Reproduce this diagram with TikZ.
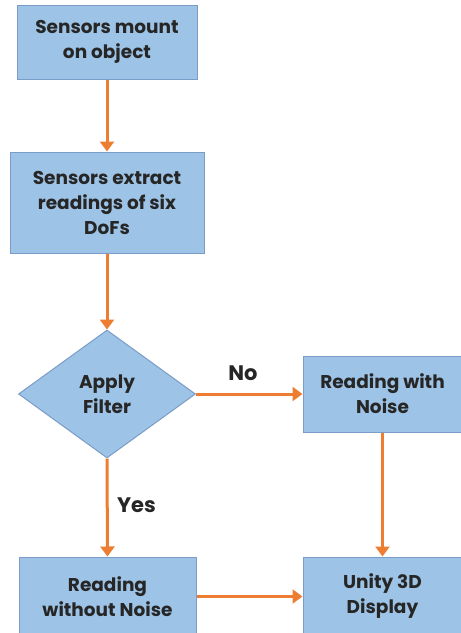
\documentclass[tikz,border=0pt]{standalone}
\usepackage{fontspec}
\setmainfont{Poppins}
\usetikzlibrary{shapes.geometric,arrows.meta}
\definecolor{boxfill}{HTML}{9DC3E6}
\definecolor{boxline}{HTML}{7A9CC6}
\definecolor{arr}{HTML}{ED7D31}
\tikzset{
  flowbox/.style={draw=boxline, line width=1pt, fill=boxfill, align=center,
    font=\fontsize{18.5}{25}\selectfont\bfseries, text=black!85, inner sep=0pt},
  decision/.style={diamond, draw=boxline, line width=1pt, fill=boxfill, align=center,
    font=\fontsize{18.5}{25}\selectfont\bfseries, text=black!85, inner sep=0pt, aspect=1.38},
  flowarrow/.style={draw=arr, line width=3pt, -{Triangle[width=14pt,length=10pt]}},
  lbl/.style={font=\fontsize{21}{24}\selectfont\bfseries, text=black!85}
}
\begin{document}
\begin{tikzpicture}[x=1pt,y=-1pt]
\useasboundingbox (0,0) rectangle (461,633);
\fill[white] (0,0) rectangle (461,633);
\node[flowbox, minimum width=180pt, minimum height=74pt] (s1) at (107,42) {Sensors mount\\on object};
\node[flowbox, minimum width=194pt, minimum height=101pt] (s2) at (107,202.5) {Sensors extract\\readings of six\\DoFs};
\node[decision, minimum width=177pt, minimum height=128pt] (d) at (107,394) {Apply\\Filter};
\node[flowbox, minimum width=159pt, minimum height=76pt] (rn) at (382.5,394) {Reading with\\Noise};
\node[flowbox, minimum width=177pt, minimum height=79pt] (rw) at (107.5,596.5) {Reading\\without Noise};
\node[flowbox, minimum width=159pt, minimum height=79pt] (u) at (382.5,596.5) {Unity 3D\\Display};
\draw[flowarrow] (s1.south) -- (s2.north);
\draw[flowarrow] (s2.south) -- (d.north);
\draw[flowarrow] (d.east) -- node[lbl, above=9pt, pos=0.44] (no) {No} (rn.west);
\draw[flowarrow] (d.south) -- node[lbl, right=5pt, pos=0.48] (yes) {Yes} (rw.north);
\draw[flowarrow] (rn.south) -- (u.north);
\draw[flowarrow] (rw.east) -- (u.west);
\end{tikzpicture}
\end{document}
